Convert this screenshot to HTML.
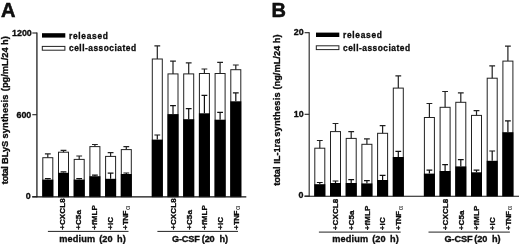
<!DOCTYPE html>
<html><head><meta charset="utf-8"><title>Figure</title>
<style>
html,body{margin:0;padding:0;background:#fff;}
svg{display:block;font-family:'Liberation Sans', Arial, Helvetica, sans-serif;fill:#111;}
</style></head><body>
<svg width="520" height="244" viewBox="0 0 520 244">
<rect x="0" y="0" width="520" height="244" fill="#fff"/>
<text x="1" y="17" font-size="20" font-weight="bold" stroke="#000" stroke-width="0.5">A</text>
<text transform="translate(7.5 184.2) rotate(-90)" font-size="9.3" font-weight="bold" letter-spacing="-0.4" stroke="#000" stroke-width="0.3">total</text>
<text transform="translate(7.5 164.0) rotate(-90)" font-size="9.3" font-weight="bold" letter-spacing="-0.08" stroke="#000" stroke-width="0.3">BLyS</text>
<text transform="translate(7.5 138.5) rotate(-90)" font-size="9.3" font-weight="bold" letter-spacing="0.12" stroke="#000" stroke-width="0.3">synthesis</text>
<text transform="translate(7.5 91.2) rotate(-90)" font-size="9.3" font-weight="bold" letter-spacing="-0.02" stroke="#000" stroke-width="0.3">(pg/mL/24 h)</text>
<path d="M36.90 32.50V197.20" stroke="#4a4a4a" stroke-width="1.6" fill="none"/>
<path d="M32.20 196.80H246.30" stroke="#111" stroke-width="1.15" fill="none"/>
<path d="M32.30 33.00H36.90" stroke="#222" stroke-width="1.1" fill="none"/>
<text x="31.80" y="35.95" font-size="8.9" font-weight="bold" text-anchor="end" stroke="#000" stroke-width="0.3">1200</text>
<path d="M32.30 114.70H36.90" stroke="#222" stroke-width="1.1" fill="none"/>
<text x="31.30" y="117.65" font-size="8.9" font-weight="bold" text-anchor="end" stroke="#000" stroke-width="0.3">600</text>
<path d="M32.30 196.70H36.90" stroke="#222" stroke-width="1.1" fill="none"/>
<text x="30.80" y="198.75" font-size="8.9" font-weight="bold" text-anchor="end" stroke="#000" stroke-width="0.3">0</text>
<rect x="42.00" y="33.20" width="23.3" height="4.4" fill="#000"/>
<rect x="42.30" y="46.40" width="22.6" height="3.8" fill="#fff" stroke="#222" stroke-width="1"/>
<text x="69.00" y="38.80" font-size="8.4" font-weight="bold" letter-spacing="0.7" stroke="#000" stroke-width="0.3">released</text>
<text x="69.00" y="51.30" font-size="8.4" font-weight="bold" letter-spacing="0.5" stroke="#000" stroke-width="0.3">cell-associated</text>
<rect x="42.80" y="157.70" width="10.00" height="39.00" fill="#fff" stroke="#222" stroke-width="1"/>
<path d="M47.80 157.70V153.90M44.90 153.90H50.70" stroke="#222" stroke-width="1.2" fill="none"/>
<rect x="42.30" y="179.60" width="11.00" height="17.10" fill="#000"/>
<path d="M47.80 179.60V178.60M44.90 178.60H50.70" stroke="#111" stroke-width="1.2" fill="none"/>
<rect x="58.50" y="152.20" width="10.00" height="44.50" fill="#fff" stroke="#222" stroke-width="1"/>
<path d="M63.50 152.20V150.30M60.60 150.30H66.40" stroke="#222" stroke-width="1.2" fill="none"/>
<rect x="58.00" y="172.80" width="11.00" height="23.90" fill="#000"/>
<path d="M63.50 172.80V171.80M60.60 171.80H66.40" stroke="#111" stroke-width="1.2" fill="none"/>
<rect x="74.20" y="159.40" width="10.00" height="37.30" fill="#fff" stroke="#222" stroke-width="1"/>
<path d="M79.20 159.40V156.00M76.30 156.00H82.10" stroke="#222" stroke-width="1.2" fill="none"/>
<rect x="73.70" y="179.60" width="11.00" height="17.10" fill="#000"/>
<path d="M79.20 179.60V178.60M76.30 178.60H82.10" stroke="#111" stroke-width="1.2" fill="none"/>
<rect x="89.90" y="146.60" width="10.00" height="50.10" fill="#fff" stroke="#222" stroke-width="1"/>
<path d="M94.90 146.60V144.50M92.00 144.50H97.80" stroke="#222" stroke-width="1.2" fill="none"/>
<rect x="89.40" y="176.20" width="11.00" height="20.50" fill="#000"/>
<path d="M94.90 176.20V175.20M92.00 175.20H97.80" stroke="#111" stroke-width="1.2" fill="none"/>
<rect x="105.60" y="156.40" width="10.00" height="40.30" fill="#fff" stroke="#222" stroke-width="1"/>
<path d="M110.60 156.40V152.60M107.70 152.60H113.50" stroke="#222" stroke-width="1.2" fill="none"/>
<rect x="105.10" y="178.80" width="11.00" height="17.90" fill="#000"/>
<path d="M110.60 178.80V173.20M107.70 173.20H113.50" stroke="#111" stroke-width="1.2" fill="none"/>
<rect x="121.30" y="149.60" width="10.00" height="47.10" fill="#fff" stroke="#222" stroke-width="1"/>
<path d="M126.30 149.60V146.60M123.40 146.60H129.20" stroke="#222" stroke-width="1.2" fill="none"/>
<rect x="120.80" y="174.00" width="11.00" height="22.70" fill="#000"/>
<path d="M126.30 174.00V173.00M123.40 173.00H129.20" stroke="#111" stroke-width="1.2" fill="none"/>
<rect x="152.30" y="59.00" width="10.00" height="137.70" fill="#fff" stroke="#222" stroke-width="1"/>
<path d="M157.30 59.00V45.80M154.40 45.80H160.20" stroke="#222" stroke-width="1.2" fill="none"/>
<rect x="151.80" y="139.60" width="11.00" height="57.10" fill="#000"/>
<path d="M157.30 139.60V135.00M154.40 135.00H160.20" stroke="#111" stroke-width="1.2" fill="none"/>
<rect x="168.00" y="73.90" width="10.00" height="122.80" fill="#fff" stroke="#222" stroke-width="1"/>
<path d="M173.00 73.90V61.10M170.10 61.10H175.90" stroke="#222" stroke-width="1.2" fill="none"/>
<rect x="167.50" y="114.10" width="11.00" height="82.60" fill="#000"/>
<path d="M173.00 114.10V105.60M170.10 105.60H175.90" stroke="#111" stroke-width="1.2" fill="none"/>
<rect x="183.70" y="73.90" width="10.00" height="122.80" fill="#fff" stroke="#222" stroke-width="1"/>
<path d="M188.70 73.90V62.80M185.80 62.80H191.60" stroke="#222" stroke-width="1.2" fill="none"/>
<rect x="183.20" y="119.20" width="11.00" height="77.50" fill="#000"/>
<path d="M188.70 119.20V108.60M185.80 108.60H191.60" stroke="#111" stroke-width="1.2" fill="none"/>
<rect x="199.40" y="73.50" width="10.00" height="123.20" fill="#fff" stroke="#222" stroke-width="1"/>
<path d="M204.40 73.50V69.00M201.50 69.00H207.30" stroke="#222" stroke-width="1.2" fill="none"/>
<rect x="198.90" y="113.30" width="11.00" height="83.40" fill="#000"/>
<path d="M204.40 113.30V95.40M201.50 95.40H207.30" stroke="#111" stroke-width="1.2" fill="none"/>
<rect x="215.10" y="73.50" width="10.00" height="123.20" fill="#fff" stroke="#222" stroke-width="1"/>
<path d="M220.10 73.50V62.40M217.20 62.40H223.00" stroke="#222" stroke-width="1.2" fill="none"/>
<rect x="214.60" y="119.70" width="11.00" height="77.00" fill="#000"/>
<path d="M220.10 119.70V112.40M217.20 112.40H223.00" stroke="#111" stroke-width="1.2" fill="none"/>
<rect x="230.80" y="69.70" width="10.00" height="127.00" fill="#fff" stroke="#222" stroke-width="1"/>
<path d="M235.80 69.70V65.00M232.90 65.00H238.70" stroke="#222" stroke-width="1.2" fill="none"/>
<rect x="230.30" y="101.30" width="11.00" height="95.40" fill="#000"/>
<path d="M235.80 101.30V92.80M232.90 92.80H238.70" stroke="#111" stroke-width="1.2" fill="none"/>
<text transform="translate(65.40 229.8) rotate(-90)" font-size="8" font-weight="bold" letter-spacing="0.1" stroke="#000" stroke-width="0.3">+CXCL8</text>
<text transform="translate(81.10 229.8) rotate(-90)" font-size="8" font-weight="bold" letter-spacing="0.1" stroke="#000" stroke-width="0.3">+C5a</text>
<text transform="translate(96.80 229.8) rotate(-90)" font-size="8" font-weight="bold" letter-spacing="0.1" stroke="#000" stroke-width="0.3">+fMLP</text>
<text transform="translate(112.50 229.8) rotate(-90)" font-size="8" font-weight="bold" letter-spacing="0.1" stroke="#000" stroke-width="0.3">+IC</text>
<text transform="translate(128.20 229.8) rotate(-90)" font-size="8" font-weight="bold" letter-spacing="0.1" stroke="#000" stroke-width="0.3">+<tspan letter-spacing="-0.6">TNF</tspan><tspan font-size="7.5" font-weight="normal" stroke="none" dx="1.3" dy="1.5">α</tspan></text>
<path d="M47.90 231.4H128.50" stroke="#222" stroke-width="1" fill="none"/>
<text x="92.60" y="242" font-size="9.2" font-weight="bold" text-anchor="middle" letter-spacing="0.14" stroke="#000" stroke-width="0.3" xml:space="preserve" style="white-space:pre">medium <tspan dx="1.2">(20</tspan><tspan dx="-1.2"> </tspan> h)</text>
<text transform="translate(175.90 229.8) rotate(-90)" font-size="8" font-weight="bold" letter-spacing="0.1" stroke="#000" stroke-width="0.3">+CXCL8</text>
<text transform="translate(191.60 229.8) rotate(-90)" font-size="8" font-weight="bold" letter-spacing="0.1" stroke="#000" stroke-width="0.3">+C5a</text>
<text transform="translate(207.30 229.8) rotate(-90)" font-size="8" font-weight="bold" letter-spacing="0.1" stroke="#000" stroke-width="0.3">+fMLP</text>
<text transform="translate(223.00 229.8) rotate(-90)" font-size="8" font-weight="bold" letter-spacing="0.1" stroke="#000" stroke-width="0.3">+IC</text>
<text transform="translate(238.70 229.8) rotate(-90)" font-size="8" font-weight="bold" letter-spacing="0.1" stroke="#000" stroke-width="0.3">+<tspan letter-spacing="-0.6">TNF</tspan><tspan font-size="7.5" font-weight="normal" stroke="none" dx="1.3" dy="1.5">α</tspan></text>
<path d="M157.40 231.4H238.00" stroke="#222" stroke-width="1" fill="none"/>
<text x="199.90" y="242" font-size="9.2" font-weight="bold" text-anchor="middle" letter-spacing="-0.12" stroke="#000" stroke-width="0.3" xml:space="preserve" style="white-space:pre">G-CSF <tspan dx="-0.6">(20  h)</tspan></text>
<text x="271.6" y="16.5" font-size="20" font-weight="bold" stroke="#000" stroke-width="0.5">B</text>
<text transform="translate(280.4 185.7) rotate(-90)" font-size="9.3" font-weight="bold" letter-spacing="-0.1" stroke="#000" stroke-width="0.3">total</text>
<text transform="translate(280.4 163.8) rotate(-90)" font-size="9.3" font-weight="bold" letter-spacing="-0.03" stroke="#000" stroke-width="0.3">IL-1ra</text>
<text transform="translate(280.4 136.8) rotate(-90)" font-size="9.3" font-weight="bold" letter-spacing="0.2" stroke="#000" stroke-width="0.3">synthesis</text>
<text transform="translate(280.4 89.6) rotate(-90)" font-size="9.3" font-weight="bold" letter-spacing="-0.01" stroke="#000" stroke-width="0.3">(ng/mL/24 h)</text>
<path d="M309.20 32.20V196.60" stroke="#333" stroke-width="1.2" fill="none"/>
<path d="M304.50 196.20H519.00" stroke="#111" stroke-width="1.15" fill="none"/>
<path d="M304.60 32.70H309.20" stroke="#222" stroke-width="1.1" fill="none"/>
<text x="303.60" y="35.20" font-size="8.9" font-weight="bold" text-anchor="end" stroke="#000" stroke-width="0.3">20</text>
<path d="M304.60 114.30H309.20" stroke="#222" stroke-width="1.1" fill="none"/>
<text x="303.60" y="116.80" font-size="8.9" font-weight="bold" text-anchor="end" stroke="#000" stroke-width="0.3">10</text>
<path d="M304.60 196.10H309.20" stroke="#222" stroke-width="1.1" fill="none"/>
<text x="303.50" y="198.30" font-size="8.9" font-weight="bold" text-anchor="end" stroke="#000" stroke-width="0.3">0</text>
<rect x="316.00" y="32.60" width="23.3" height="4.4" fill="#000"/>
<rect x="316.30" y="45.80" width="22.6" height="3.8" fill="#fff" stroke="#222" stroke-width="1"/>
<text x="343.00" y="38.20" font-size="8.4" font-weight="bold" letter-spacing="0.7" stroke="#000" stroke-width="0.3">released</text>
<text x="343.00" y="50.70" font-size="8.4" font-weight="bold" letter-spacing="0.5" stroke="#000" stroke-width="0.3">cell-associated</text>
<rect x="314.80" y="148.20" width="10.00" height="47.90" fill="#fff" stroke="#222" stroke-width="1"/>
<path d="M319.80 148.20V140.50M316.90 140.50H322.70" stroke="#222" stroke-width="1.2" fill="none"/>
<rect x="314.30" y="184.20" width="11.00" height="11.90" fill="#000"/>
<path d="M319.80 184.20V182.50M316.90 182.50H322.70" stroke="#111" stroke-width="1.2" fill="none"/>
<rect x="330.50" y="131.60" width="10.00" height="64.50" fill="#fff" stroke="#222" stroke-width="1"/>
<path d="M335.50 131.60V123.50M332.60 123.50H338.40" stroke="#222" stroke-width="1.2" fill="none"/>
<rect x="330.00" y="183.00" width="11.00" height="13.10" fill="#000"/>
<path d="M335.50 183.00V181.00M332.60 181.00H338.40" stroke="#111" stroke-width="1.2" fill="none"/>
<rect x="346.20" y="138.40" width="10.00" height="57.70" fill="#fff" stroke="#222" stroke-width="1"/>
<path d="M351.20 138.40V131.60M348.30 131.60H354.10" stroke="#222" stroke-width="1.2" fill="none"/>
<rect x="345.70" y="183.00" width="11.00" height="13.10" fill="#000"/>
<path d="M351.20 183.00V179.60M348.30 179.60H354.10" stroke="#111" stroke-width="1.2" fill="none"/>
<rect x="361.90" y="144.30" width="10.00" height="51.80" fill="#fff" stroke="#222" stroke-width="1"/>
<path d="M366.90 144.30V138.80M364.00 138.80H369.80" stroke="#222" stroke-width="1.2" fill="none"/>
<rect x="361.40" y="183.40" width="11.00" height="12.70" fill="#000"/>
<path d="M366.90 183.40V180.60M364.00 180.60H369.80" stroke="#111" stroke-width="1.2" fill="none"/>
<rect x="377.60" y="133.30" width="10.00" height="62.80" fill="#fff" stroke="#222" stroke-width="1"/>
<path d="M382.60 133.30V125.60M379.70 125.60H385.50" stroke="#222" stroke-width="1.2" fill="none"/>
<rect x="377.10" y="180.00" width="11.00" height="16.10" fill="#000"/>
<path d="M382.60 180.00V175.30M379.70 175.30H385.50" stroke="#111" stroke-width="1.2" fill="none"/>
<rect x="393.30" y="88.10" width="10.00" height="108.00" fill="#fff" stroke="#222" stroke-width="1"/>
<path d="M398.30 88.10V75.80M395.40 75.80H401.20" stroke="#222" stroke-width="1.2" fill="none"/>
<rect x="392.80" y="157.00" width="11.00" height="39.10" fill="#000"/>
<path d="M398.30 157.00V151.40M395.40 151.40H401.20" stroke="#111" stroke-width="1.2" fill="none"/>
<rect x="424.40" y="117.50" width="10.00" height="78.60" fill="#fff" stroke="#222" stroke-width="1"/>
<path d="M429.40 117.50V103.50M426.50 103.50H432.30" stroke="#222" stroke-width="1.2" fill="none"/>
<rect x="423.90" y="173.60" width="11.00" height="22.50" fill="#000"/>
<path d="M429.40 173.60V170.20M426.50 170.20H432.30" stroke="#111" stroke-width="1.2" fill="none"/>
<rect x="440.10" y="107.30" width="10.00" height="88.80" fill="#fff" stroke="#222" stroke-width="1"/>
<path d="M445.10 107.30V91.50M442.20 91.50H448.00" stroke="#222" stroke-width="1.2" fill="none"/>
<rect x="439.60" y="171.00" width="11.00" height="25.10" fill="#000"/>
<path d="M445.10 171.00V164.70M442.20 164.70H448.00" stroke="#111" stroke-width="1.2" fill="none"/>
<rect x="455.80" y="102.30" width="10.00" height="93.80" fill="#fff" stroke="#222" stroke-width="1"/>
<path d="M460.80 102.30V92.80M457.90 92.80H463.70" stroke="#222" stroke-width="1.2" fill="none"/>
<rect x="455.30" y="166.40" width="11.00" height="29.70" fill="#000"/>
<path d="M460.80 166.40V159.60M457.90 159.60H463.70" stroke="#111" stroke-width="1.2" fill="none"/>
<rect x="471.50" y="115.40" width="10.00" height="80.70" fill="#fff" stroke="#222" stroke-width="1"/>
<path d="M476.50 115.40V110.70M473.60 110.70H479.40" stroke="#222" stroke-width="1.2" fill="none"/>
<rect x="471.00" y="172.30" width="11.00" height="23.80" fill="#000"/>
<path d="M476.50 172.30V170.20M473.60 170.20H479.40" stroke="#111" stroke-width="1.2" fill="none"/>
<rect x="487.20" y="78.20" width="10.00" height="117.90" fill="#fff" stroke="#222" stroke-width="1"/>
<path d="M492.20 78.20V65.80M489.30 65.80H495.10" stroke="#222" stroke-width="1.2" fill="none"/>
<rect x="486.70" y="160.80" width="11.00" height="35.30" fill="#000"/>
<path d="M492.20 160.80V151.00M489.30 151.00H495.10" stroke="#111" stroke-width="1.2" fill="none"/>
<rect x="502.90" y="61.10" width="10.00" height="135.00" fill="#fff" stroke="#222" stroke-width="1"/>
<path d="M507.90 61.10V46.20M505.00 46.20H510.80" stroke="#222" stroke-width="1.2" fill="none"/>
<rect x="502.40" y="132.20" width="11.00" height="63.90" fill="#000"/>
<path d="M507.90 132.20V120.90M505.00 120.90H510.80" stroke="#111" stroke-width="1.2" fill="none"/>
<text transform="translate(338.30 230.2) rotate(-90)" font-size="8" font-weight="bold" letter-spacing="0.1" stroke="#000" stroke-width="0.3">+CXCL8</text>
<text transform="translate(354.00 230.2) rotate(-90)" font-size="8" font-weight="bold" letter-spacing="0.1" stroke="#000" stroke-width="0.3">+C5a</text>
<text transform="translate(369.70 230.2) rotate(-90)" font-size="8" font-weight="bold" letter-spacing="0.1" stroke="#000" stroke-width="0.3">+fMLP</text>
<text transform="translate(385.40 230.2) rotate(-90)" font-size="8" font-weight="bold" letter-spacing="0.1" stroke="#000" stroke-width="0.3">+IC</text>
<text transform="translate(401.10 230.2) rotate(-90)" font-size="8" font-weight="bold" letter-spacing="0.1" stroke="#000" stroke-width="0.3">+<tspan letter-spacing="-0.6">TNF</tspan><tspan font-size="7.5" font-weight="normal" stroke="none" dx="1.3" dy="1.5">α</tspan></text>
<path d="M318.90 232.1H400.70" stroke="#222" stroke-width="1" fill="none"/>
<text x="365.60" y="242.0" font-size="9.2" font-weight="bold" text-anchor="middle" letter-spacing="0.14" stroke="#000" stroke-width="0.3" xml:space="preserve" style="white-space:pre">medium <tspan dx="1.2">(20</tspan><tspan dx="-1.2"> </tspan> h)</text>
<text transform="translate(448.00 230.2) rotate(-90)" font-size="8" font-weight="bold" letter-spacing="0.1" stroke="#000" stroke-width="0.3">+CXCL8</text>
<text transform="translate(463.70 230.2) rotate(-90)" font-size="8" font-weight="bold" letter-spacing="0.1" stroke="#000" stroke-width="0.3">+C5a</text>
<text transform="translate(479.40 230.2) rotate(-90)" font-size="8" font-weight="bold" letter-spacing="0.1" stroke="#000" stroke-width="0.3">+fMLP</text>
<text transform="translate(495.10 230.2) rotate(-90)" font-size="8" font-weight="bold" letter-spacing="0.1" stroke="#000" stroke-width="0.3">+IC</text>
<text transform="translate(510.80 230.2) rotate(-90)" font-size="8" font-weight="bold" letter-spacing="0.1" stroke="#000" stroke-width="0.3">+<tspan letter-spacing="-0.6">TNF</tspan><tspan font-size="7.5" font-weight="normal" stroke="none" dx="1.3" dy="1.5">α</tspan></text>
<path d="M428.50 232.1H509.90" stroke="#222" stroke-width="1" fill="none"/>
<text x="472.50" y="242.0" font-size="9.2" font-weight="bold" text-anchor="middle" letter-spacing="-0.12" stroke="#000" stroke-width="0.3" xml:space="preserve" style="white-space:pre">G-CSF <tspan dx="-0.6">(20  h)</tspan></text>
</svg>
</body></html>
